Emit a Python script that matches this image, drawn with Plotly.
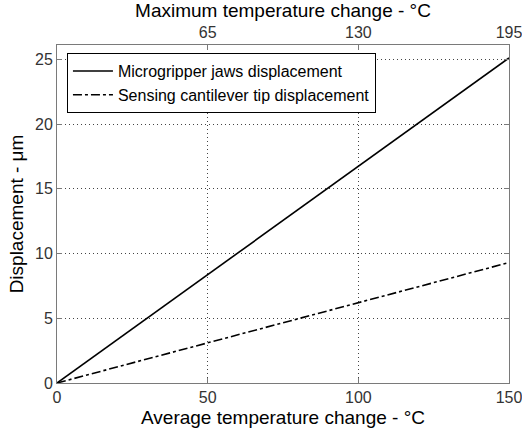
import plotly.graph_objects as go

avg_temp = [0, 150]
jaws_disp = [0, 25.1]
cantilever_disp = [0, 9.3]
x_ticks = [0, 50, 100, 150]
top_ticks = [65, 130, 195]
y_ticks = [0, 5, 10, 15, 20, 25]

FONT = "Liberation Sans, Arial, sans-serif"

fig = go.Figure()
fig.add_trace(go.Scatter(x=avg_temp, y=jaws_disp, mode="lines",
                         name="Microgripper jaws displacement",
                         line=dict(color="black", width=1.6)))
fig.add_trace(go.Scatter(x=avg_temp, y=cantilever_disp, mode="lines",
                         name="Sensing cantilever tip displacement",
                         line=dict(color="black", width=1.6, dash="dashdot")))
# invisible trace to activate top axis
fig.add_trace(go.Scatter(x=[0, 195], y=[0, 0], xaxis="x2", mode="lines",
                         line=dict(width=0), showlegend=False, hoverinfo="skip"))

axis_common = dict(showline=True, linecolor="#7a7a7a", linewidth=1,
                   ticks="inside", ticklen=5, tickcolor="#7a7a7a",
                   zeroline=False, automargin=False, ticklabeloverflow="allow",
                   tickfont=dict(size=16, color="#333", family=FONT))

grid = dict(showgrid=True, gridcolor="#444", griddash="1px,3px", gridwidth=1)

fig.update_layout(
    width=522, height=434,
    margin=dict(l=57, r=13, t=45, b=51),
    paper_bgcolor="white", plot_bgcolor="white",
    font=dict(family=FONT, color="black"),
    xaxis=dict(range=[0, 150], tickvals=x_ticks,
               title=dict(text="Average temperature change - °C", font=dict(size=19), standoff=5),
               **grid, **axis_common),
    xaxis2=dict(range=[0, 195], tickvals=top_ticks, overlaying="x", side="top",
                showgrid=False,
                title=dict(text="Maximum temperature change - °C", font=dict(size=19), standoff=1),
                **axis_common),
    yaxis=dict(range=[0, 26.1], tickvals=y_ticks, mirror="ticks",
               title=dict(text="Displacement - μm", font=dict(size=19), standoff=6),
               **grid, **axis_common),
    legend=dict(x=0.022, y=0.976, xanchor="left", yanchor="top",
                bgcolor="white", bordercolor="black", borderwidth=1,
                font=dict(size=16, family=FONT), tracegroupgap=0,
                itemwidth=40),
    showlegend=True,
)

fig.write_html("out.html")
